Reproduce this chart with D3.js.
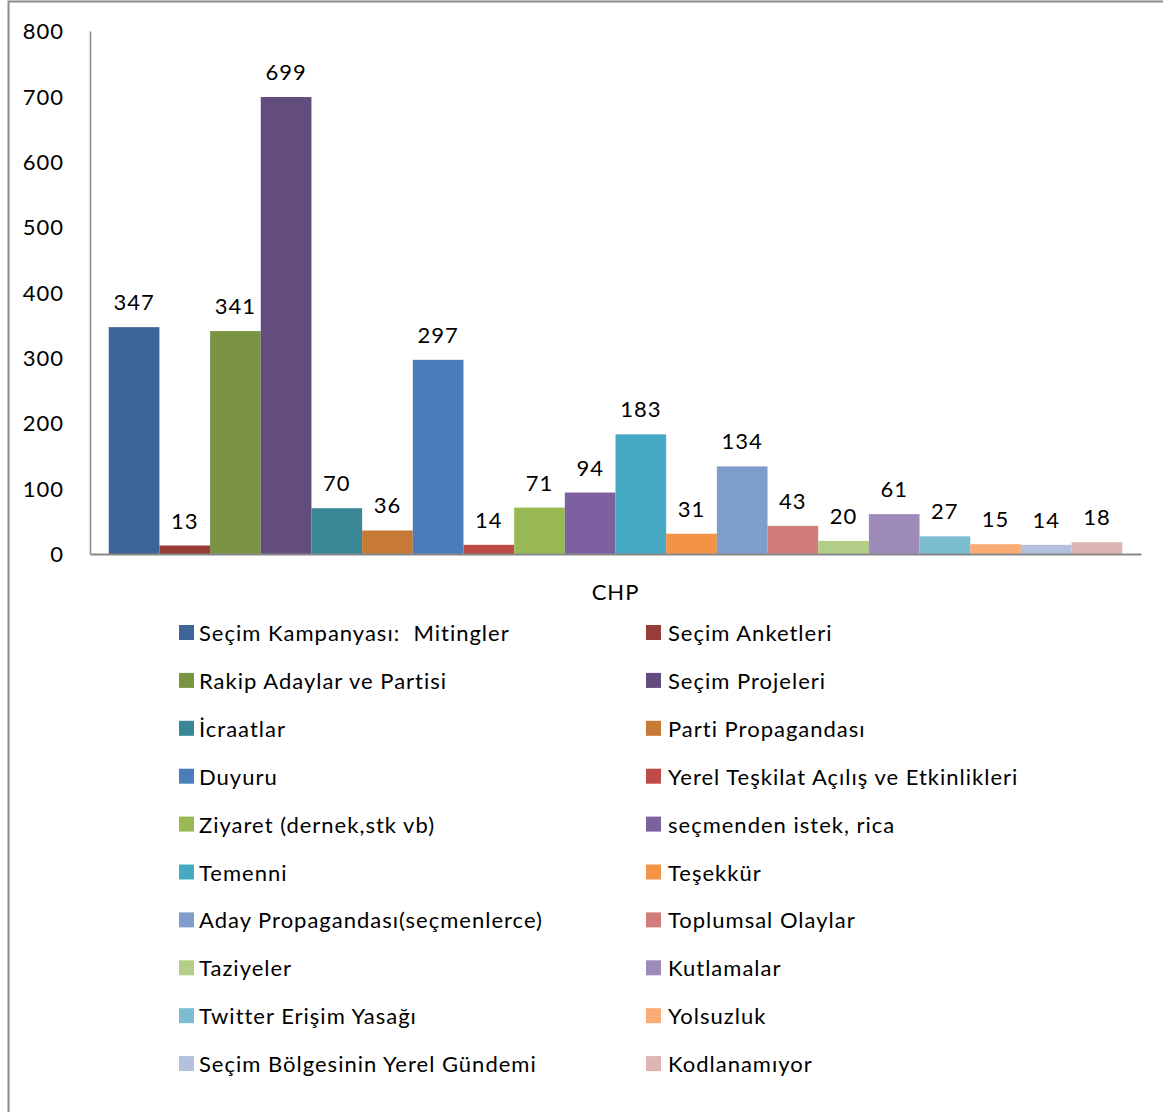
<!DOCTYPE html>
<html><head><meta charset="utf-8">
<script src="https://cdn.jsdelivr.net/npm/d3@7"></script>
<style>
html,body{margin:0;padding:0;background:#fff;}
svg text{font-family:Lato,"Open Sans",sans-serif;fill:#000;letter-spacing:1px;white-space:pre;}
</style></head>
<body>
<svg id="chart" width="1163" height="1112"></svg>
<script>
const categories = ["Seçim Kampanyası:  Mitingler","Seçim Anketleri","Rakip Adaylar ve Partisi","Seçim Projeleri","İcraatlar","Parti Propagandası","Duyuru","Yerel Teşkilat Açılış ve Etkinlikleri","Ziyaret (dernek,stk vb)","seçmenden istek, rica","Temenni","Teşekkür","Aday Propagandası(seçmenlerce)","Toplumsal Olaylar","Taziyeler","Kutlamalar","Twitter Erişim Yasağı","Yolsuzluk","Seçim Bölgesinin Yerel Gündemi","Kodlanamıyor"];
const values = [347,13,341,699,70,36,297,14,71,94,183,31,134,43,20,61,27,15,14,18];
const colors = ["#3D6597","#983C3A","#7A9444","#634C7E","#398696","#C77A36","#4A7EBB","#BE4B48","#98B954","#7D60A0","#46AAC5","#F39444","#7E9DCB","#D07D7B","#B3CE87","#9F8BBA","#7CBCD0","#F9AC76","#B4C1DC","#DFB4B4"];
const yTicks = [0,100,200,300,400,500,600,700,800];
const groupLabel = "CHP";

const FS = 22;
const svg = d3.select("#chart");
// outer border
svg.append("rect").attr("x",8.5).attr("y",1.5).attr("width",1200).attr("height",1200)
  .attr("fill","none").attr("stroke","#8c8c8c").attr("stroke-width",2);

const x0 = 90, x1 = 1141, yBase = 554, yTop = 31;
const y = d3.scaleLinear().domain([0,800]).range([yBase,yTop]);
const x = d3.scaleBand().domain(d3.range(values.length)).range([x0,x1]).paddingInner(0).paddingOuter(0.37);

// bars
svg.append("g").selectAll("rect").data(values).join("rect")
  .attr("x",(d,i)=>x(i)).attr("width",x.bandwidth())
  .attr("y",d=>y(d)).attr("height",d=>yBase-y(d))
  .attr("fill",(d,i)=>colors[i]);

// data labels
svg.append("g").selectAll("text").data(values).join("text")
  .attr("x",(d,i)=>x(i)+x.bandwidth()/2).attr("y",d=>y(d)-17)
  .attr("text-anchor","middle").attr("font-size",FS).text(d=>d);

// y axis
const yAxis = d3.axisLeft(y).tickValues(yTicks).tickSize(0).tickPadding(26);
const gy = svg.append("g").attr("transform",`translate(${x0},0)`).call(yAxis);
gy.select(".domain").attr("stroke","#888").attr("stroke-width",1.5);
gy.selectAll("text").attr("font-size",FS).attr("font-family","Lato").attr("fill","#000").attr("dy","0.35em");

// x axis
const xAxis = d3.axisBottom(d3.scaleLinear().domain([0,1]).range([x0,x1])).ticks(0).tickSize(0);
const gx = svg.append("g").attr("transform",`translate(0,${yBase})`).call(xAxis);
gx.select(".domain").attr("stroke","#888").attr("stroke-width",2);
svg.append("text").attr("x",(x0+x1)/2).attr("y",600).attr("text-anchor","middle").attr("font-size",FS).text(groupLabel);

// legend
const leg = svg.append("g").selectAll("g").data(categories).join("g")
  .attr("transform",(d,i)=>`translate(${i%2===0?179:646},${633+Math.floor(i/2)*47.9})`);
leg.append("rect").attr("x",0).attr("y",-8).attr("width",15).attr("height",15).attr("fill",(d,i)=>colors[i]);
leg.append("text").attr("x",(d,i)=>i%2===0?20:22).attr("y",8).attr("font-size",FS).text(d=>d);
</script>
</body></html>
